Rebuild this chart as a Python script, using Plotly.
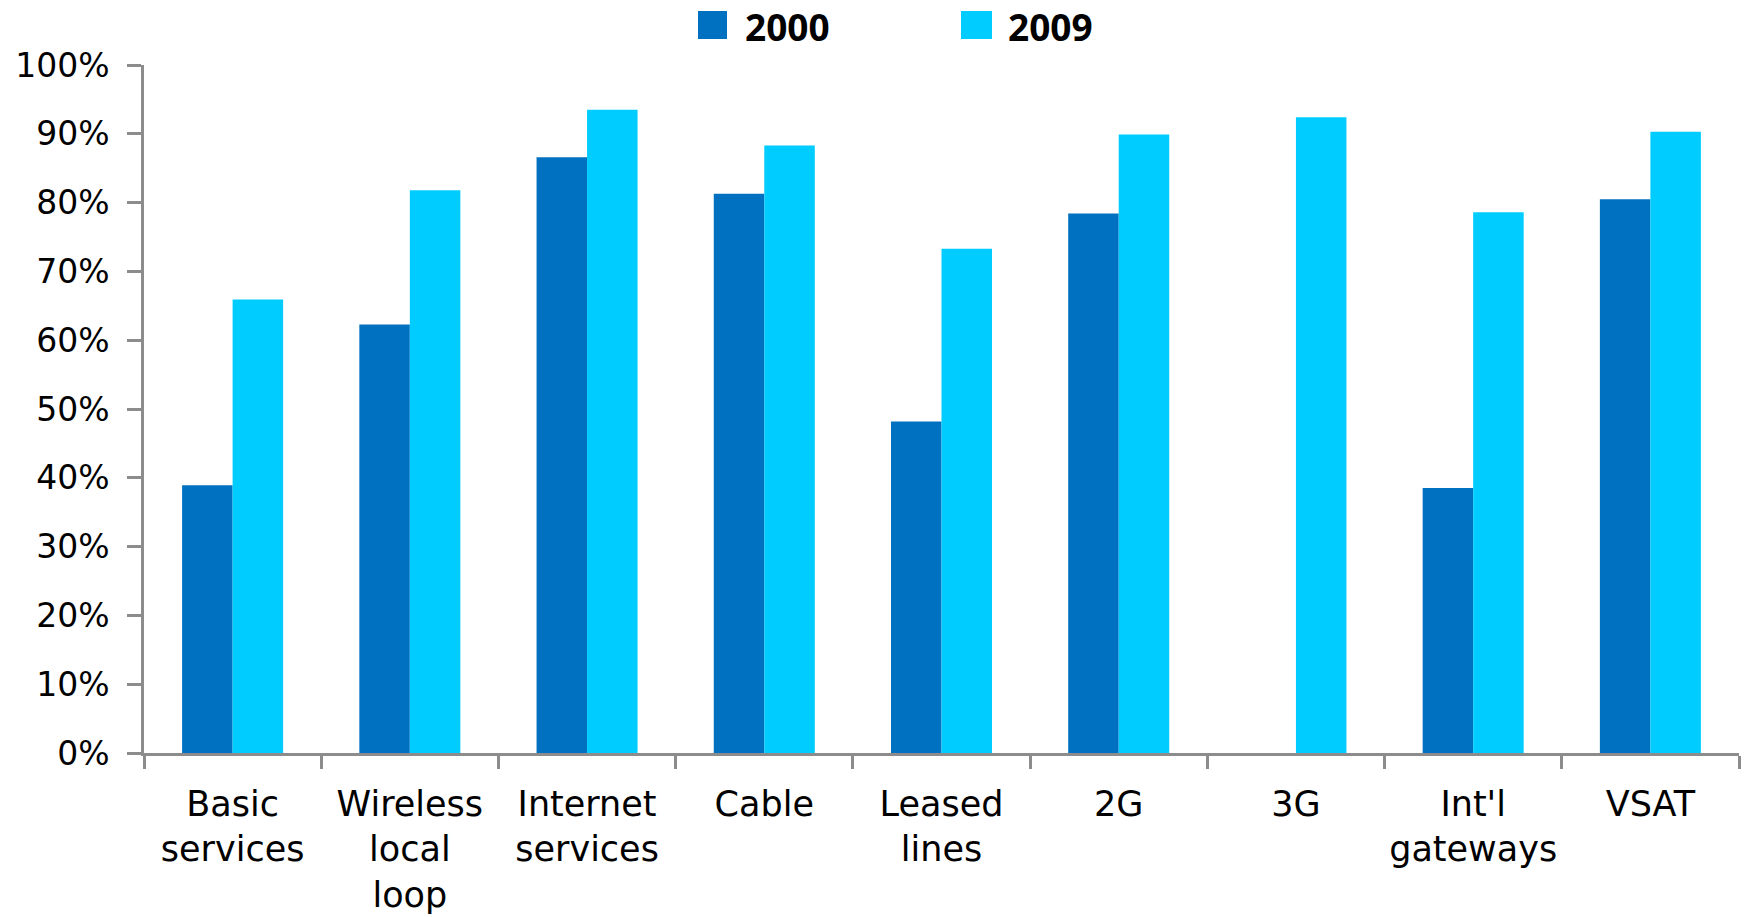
import plotly.graph_objects as go

categories = ["Basic<br>services", "Wireless<br>local<br>loop", "Internet<br>services", "Cable",
              "Leased<br>lines", "2G", "3G", "Int'l<br>gateways", "VSAT"]
series_names = ["2000", "2009"]
values_2000 = [0.389, 0.623, 0.866, 0.813, 0.482, 0.784, None, 0.385, 0.805]
values_2009 = [0.659, 0.818, 0.935, 0.883, 0.733, 0.899, 0.924, 0.786, 0.903]
colors = ["#0070C0", "#00CCFF"]
y_ticks = [0, 0.1, 0.2, 0.3, 0.4, 0.5, 0.6, 0.7, 0.8, 0.9, 1.0]

W, H = 1746, 917
L, R, T, B = 144, 7, 65, 164
pw, ph = W - L - R, H - T - B

def px_x(p):
    return (p - L) / pw

def px_y(p):
    return (H - B - p) / ph

fig = go.Figure()
for name, vals, col in zip(series_names, [values_2000, values_2009], colors):
    fig.add_trace(go.Bar(x=categories, y=vals, name=name, marker=dict(color=col, line=dict(width=0)),
                         showlegend=False))

# manual legend with large squares
legend_items = [(698, 727, 744), (961, 992, 1007)]
for (x0, x1, tx), name, col in zip(legend_items, series_names, colors):
    fig.add_shape(type="rect", xref="paper", yref="paper",
                  x0=px_x(x0), x1=px_x(x1), y0=px_y(39), y1=px_y(11),
                  fillcolor=col, line=dict(width=0))
    fig.add_annotation(xref="paper", yref="paper", x=px_x(tx), y=px_y(27),
                       text="<b>" + name + "</b>", showarrow=False, xanchor="left", yanchor="middle",
                       borderpad=0,
                       font=dict(family="Open Sans", size=37, color="#000000"))

axis_col = "#8C8C8C"
fig.update_layout(
    width=W, height=H,
    margin=dict(l=L, r=R, t=T, b=B, pad=0, autoexpand=False),
    paper_bgcolor="white", plot_bgcolor="white",
    barmode="group", bargap=0.43, bargroupgap=0,
    xaxis=dict(showline=True, linecolor=axis_col, linewidth=2.5, ticks="outside", tickson="boundaries",
               ticklen=13, tickwidth=2.5, tickcolor=axis_col, showgrid=False, zeroline=False,
               tickfont=dict(family="DejaVu Sans", size=35, color="#000000"), ticklabelstandoff=18,
               tickangle=0, automargin=False),
    yaxis=dict(range=[0, 1], tickvals=y_ticks, tickformat=".0%", showline=True, linecolor=axis_col,
               linewidth=2.5, ticks="outside", ticklen=14, tickwidth=2.5, tickcolor=axis_col,
               showgrid=False, zeroline=False, automargin=False,
               tickfont=dict(family="DejaVu Sans", size=33, color="#000000"), ticklabelstandoff=11),
)

fig.write_html("out.html")
